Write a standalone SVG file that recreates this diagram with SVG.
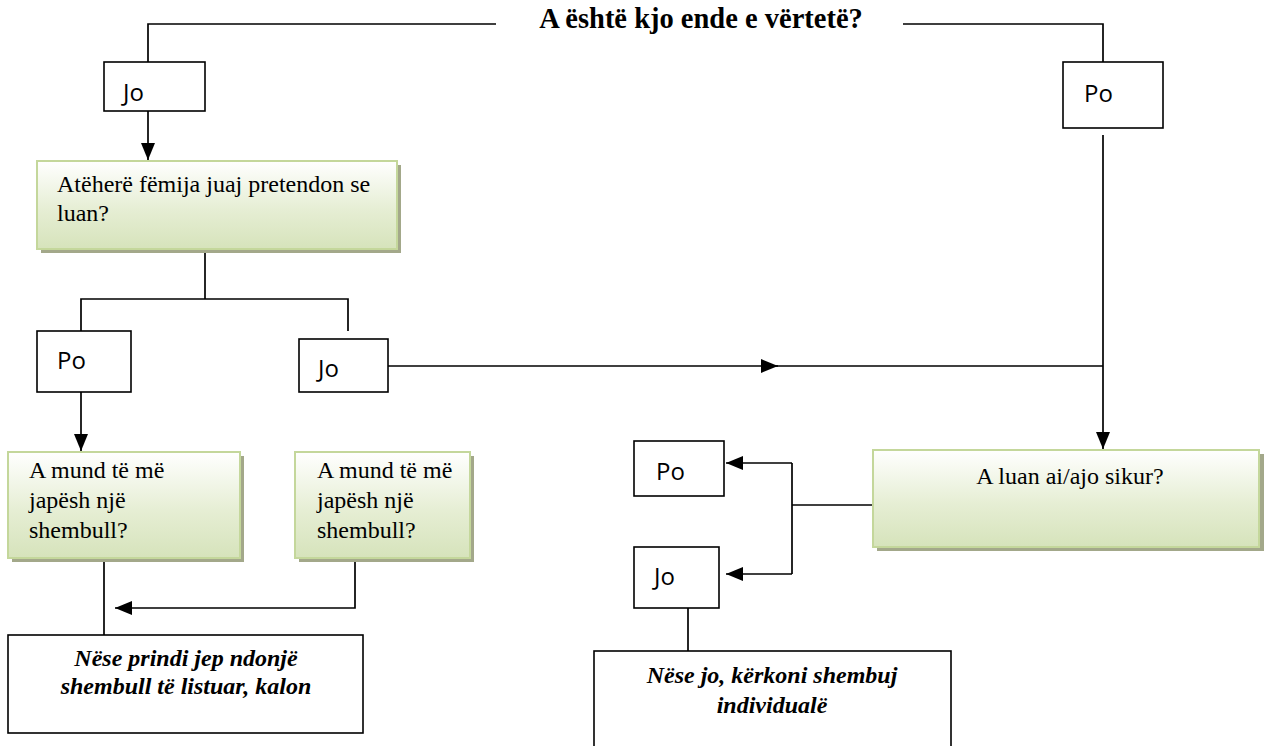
<svg xmlns="http://www.w3.org/2000/svg" width="1264" height="746" viewBox="0 0 1264 746">
<style>
.lbl{fill:#fff;stroke:#000;stroke-width:1.6}
.lt{font-family:"Open Sans","DejaVu Sans",sans-serif;font-size:24px;fill:#000}
.g{fill:url(#gg);stroke:#c4d79b;stroke-width:2}
.sh{fill:#a3a88a}
.gt{font-family:"Liberation Serif","Times New Roman",serif;font-size:24px;fill:#000}
.it{font-family:"Liberation Serif","Times New Roman",serif;font-size:24px;font-style:italic;font-weight:bold;fill:#000}
.wb{fill:#fff;stroke:#000;stroke-width:1.6}
.c{fill:none;stroke:#000;stroke-width:1.7}
</style>
<defs>
<linearGradient id="gg" x1="0" y1="0" x2="0" y2="1">
<stop offset="0" stop-color="#ffffff"/>
<stop offset="0.55" stop-color="#e6eed4"/>
<stop offset="1" stop-color="#d6e3bb"/>
</linearGradient>
<marker id="ah" markerUnits="userSpaceOnUse" markerWidth="17" markerHeight="17" viewBox="0 0 17 17" refX="17" refY="8.5" orient="auto">
<path d="M0,1.5 L17,8.5 L0,15.5 Z" fill="#000"/>
</marker>
</defs>

<text x="701" y="28" text-anchor="middle" font-family="Liberation Serif, Times New Roman, serif" font-size="28.5" font-weight="bold">A është kjo ende e vërtetë?</text>

<g id="connectors">
<path class="c" d="M496,24 H148 V62"/>
<path class="c" d="M903,24 H1103 V62"/>
<path class="c" d="M148,111 V160" marker-end="url(#ah)"/>
<path class="c" d="M205,249 V299"/>
<path class="c" d="M81,331 V299 H348 V331"/>
<path class="c" d="M81,392 V451" marker-end="url(#ah)"/>
<path class="c" d="M388,366 H778" marker-end="url(#ah)"/>
<path class="c" d="M770,366 H1103"/>
<path class="c" d="M1103,135 V449" marker-end="url(#ah)"/>
<path class="c" d="M873,505 H792"/>
<path class="c" d="M792,463 H726" marker-end="url(#ah)"/>
<path class="c" d="M792,463 V574"/>
<path class="c" d="M792,574 H726" marker-end="url(#ah)"/>
<path class="c" d="M688,608 V651"/>
<path class="c" d="M104,558 V635"/>
<path class="c" d="M355,558 V608 H115" marker-end="url(#ah)"/>
</g>

<g id="jo-top">
<rect class="lbl" x="104" y="62" width="101" height="49"/>
<text class="lt" x="123" y="101">Jo</text>
</g>
<g id="po-top">
<rect class="lbl" x="1063" y="62" width="100" height="66"/>
<text class="lt" x="1084" y="102">Po</text>
</g>
<g id="pretend">
<rect class="sh" x="41" y="165" width="360" height="88"/>
<rect class="g" x="37" y="161" width="360" height="88"/>
<text class="gt" x="57" y="192" font-size="23">Atëherë fëmija juaj pretendon se</text>
<text class="gt" x="57" y="221" font-size="23">luan?</text>
</g>
<g id="po-left">
<rect class="lbl" x="37" y="331" width="94" height="61"/>
<text class="lt" x="57" y="369">Po</text>
</g>
<g id="jo-mid">
<rect class="lbl" x="299" y="339" width="89" height="53"/>
<text class="lt" x="318" y="377">Jo</text>
</g>
<g id="ex1">
<rect class="sh" x="12" y="456" width="232" height="106"/>
<rect class="g" x="8" y="452" width="232" height="106"/>
<text class="gt" x="29" y="478">A mund të më</text>
<text class="gt" x="29" y="508">japësh një</text>
<text class="gt" x="29" y="538">shembull?</text>
</g>
<g id="ex2">
<rect class="sh" x="299" y="456" width="175" height="106"/>
<rect class="g" x="295" y="452" width="175" height="106"/>
<text class="gt" x="317" y="478">A mund të më</text>
<text class="gt" x="317" y="508">japësh një</text>
<text class="gt" x="317" y="538">shembull?</text>
</g>
<g id="pass">
<rect class="wb" x="8" y="635" width="355" height="98"/>
<text class="it" x="186" y="666" text-anchor="middle">Nëse prindi jep ndonjë</text>
<text class="it" x="186" y="694" text-anchor="middle">shembull të listuar, kalon</text>
</g>
<g id="luan">
<rect class="sh" x="877" y="454" width="387" height="97"/>
<rect class="g" x="873" y="450" width="386" height="97"/>
<text class="gt" x="1070" y="484" text-anchor="middle">A luan ai/ajo sikur?</text>
</g>
<g id="po-right">
<rect class="lbl" x="634" y="441" width="90" height="55"/>
<text class="lt" x="656" y="480">Po</text>
</g>
<g id="jo-right">
<rect class="lbl" x="634" y="547" width="85" height="61"/>
<text class="lt" x="654" y="585">Jo</text>
</g>
<g id="individual">
<rect class="wb" x="594" y="651" width="357" height="110"/>
<text class="it" x="772" y="683" text-anchor="middle">Nëse jo, kërkoni shembuj</text>
<text class="it" x="772" y="713" text-anchor="middle">individualë</text>
</g>
</svg>
